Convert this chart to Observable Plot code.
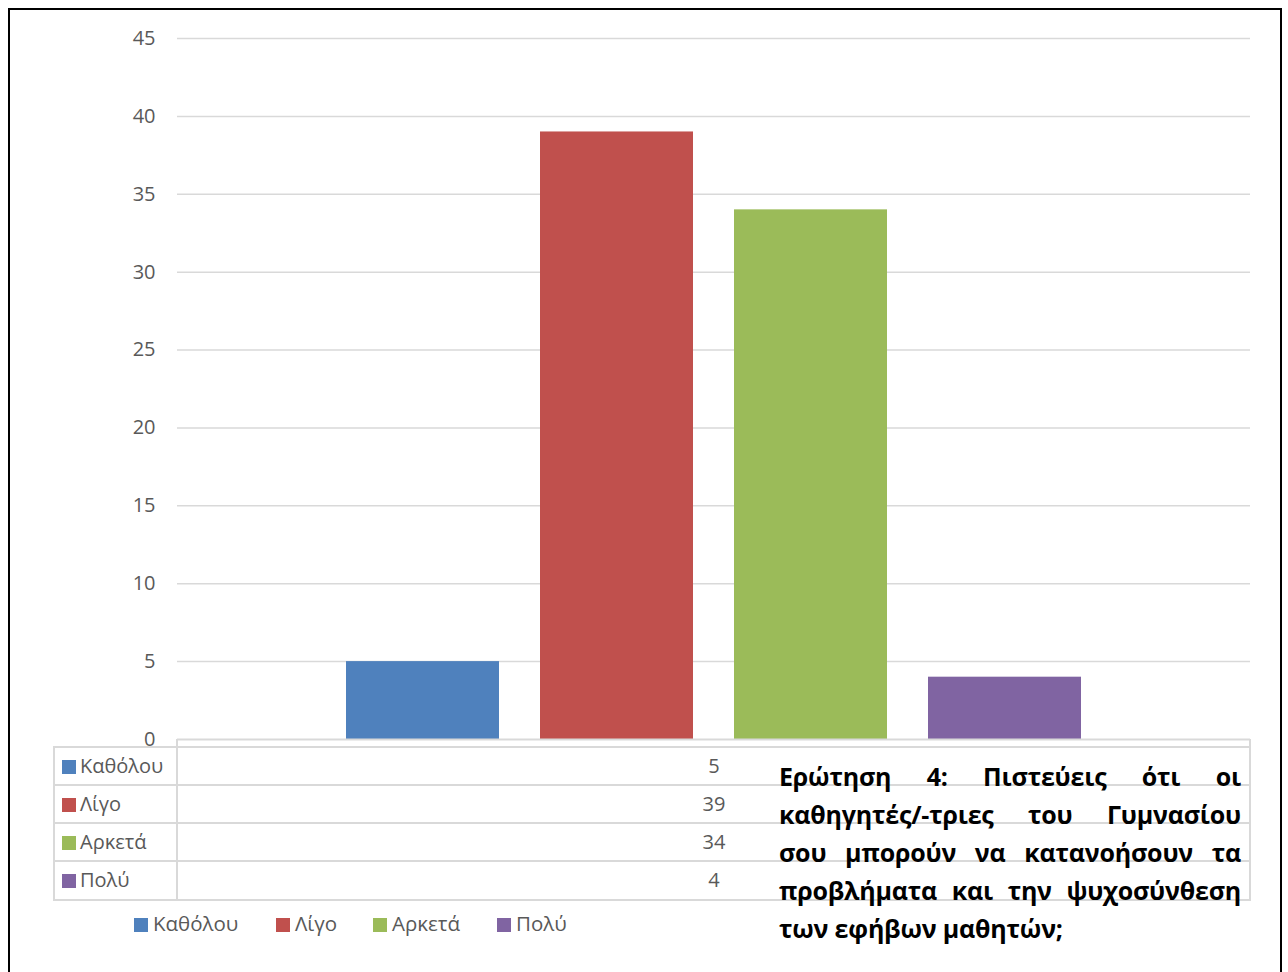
<!DOCTYPE html>
<html>
<head>
<meta charset="utf-8">
<script src="https://cdn.jsdelivr.net/npm/d3@7"></script>
<script src="https://cdn.jsdelivr.net/npm/@observablehq/plot@0.6"></script>
<style>
  html, body { margin: 0; padding: 0; background: #fff; }
  #wrap { position: relative; width: 1288px; height: 972px; overflow: hidden; font-family: "Open Sans", sans-serif; }
  #frame { position: absolute; left: 8px; top: 8px; width: 1274px; height: 980px; border: 2px solid #000; box-sizing: border-box; }
  #chart { position: absolute; left: 0; top: 0; }
  .hl { position: absolute; height: 0; border-top: 2px solid #d9d9d9; }
  .vl { position: absolute; width: 0; border-left: 2px solid #d9d9d9; }
  .rowlab { position: absolute; left: 62px; font-size: 20px; color: #595959; height: 38px; line-height: 38px; white-space: nowrap; }
  .sw { display: inline-block; width: 14px; height: 14px; margin-right: 4px; vertical-align: -1px; }
  .val { position: absolute; width: 60px; text-align: center; font-size: 20px; color: #595959; height: 38px; line-height: 38px; }
  .leg { position: absolute; top: 910px; font-size: 20.5px; color: #595959; white-space: nowrap; line-height: 26px; }
  #q { position: absolute; left: 779px; top: 757px; width: 462px; font-family: "Open Sans", sans-serif; font-weight: bold; font-size: 25px; line-height: 38px; color: #000; letter-spacing: -0.2px; }
  #q div { white-space: nowrap; text-align: justify; text-align-last: justify; }
  #q div:last-child { text-align-last: left; }
</style>
</head>
<body>
<div id="wrap">
  <div id="chart"></div>
  <div id="table"></div>
  <div id="legend"></div>
  <div id="q"></div>
  <div id="frame"></div>
</div>
<script>
const categories = ["Καθόλου", "Λίγο", "Αρκετά", "Πολύ"];
const values = [5, 39, 34, 4];
const colors = ["#4F81BD", "#C0504D", "#9BBB59", "#8064A2"];
const yTicks = [0, 5, 10, 15, 20, 25, 30, 35, 40, 45];
const questionLines = [
  "Ερώτηση 4: Πιστεύεις ότι οι",
  "καθηγητές/-τριες του Γυμνασίου",
  "σου μπορούν να κατανοήσουν τα",
  "προβλήματα και την ψυχοσύνθεση",
  "των εφήβων μαθητών;"
];

const data = categories.map((c, i) => ({category: c, value: values[i]}));

const chart = Plot.plot({
  width: 1288,
  height: 972,
  marginTop: 38,
  marginBottom: 233,
  marginLeft: 177,
  marginRight: 38,
  style: {fontFamily: "Open Sans, sans-serif", fontSize: "20px", color: "#595959", background: "transparent"},
  x: {domain: categories, paddingInner: 0.21, paddingOuter: 0.86, axis: null},
  y: {domain: [0, 45], ticks: yTicks, label: null},
  color: {domain: categories, range: colors},
  marks: [
    Plot.ruleY(yTicks.filter(t => t > 0), {stroke: "#d9d9d9", strokeWidth: 1.5}),
    Plot.axisY({ticks: yTicks, tickSize: 0, tickPadding: 22, label: null, fill: "#595959", fontSize: 20}),
    Plot.barY(data, {x: "category", y: "value", fill: "category"}),
    Plot.ruleY([0], {stroke: "#d9d9d9", strokeWidth: 2})
  ]
});
document.getElementById("chart").appendChild(chart);

// data table
const table = document.getElementById("table");
const rowTops = [747, 785, 823, 861, 900];
let html = "";
rowTops.forEach(t => { html += `<div class="hl" style="left:54px;width:1197px;top:${t - 1}px"></div>`; });
html += `<div class="vl" style="left:53px;top:746px;height:155px"></div>`;
html += `<div class="vl" style="left:176px;top:739px;height:162px"></div>`;
html += `<div class="vl" style="left:1249px;top:739px;height:162px"></div>`;
categories.forEach((c, i) => {
  html += `<div class="rowlab" style="top:${rowTops[i]}px"><span class="sw" style="background:${colors[i]}"></span>${c}</div>`;
  html += `<div class="val" style="left:684px;top:${rowTops[i]}px">${values[i]}</div>`;
});
table.innerHTML = html;

// bottom legend
const legX = [134, 276, 373, 497];
document.getElementById("legend").innerHTML = categories.map((c, i) =>
  `<div class="leg" style="left:${legX[i]}px"><span class="sw" style="background:${colors[i]};margin-right:5px"></span>${c}</div>`
).join("");

document.getElementById("q").innerHTML = questionLines.map(l => `<div>${l}</div>`).join("");
</script>
</body>
</html>
